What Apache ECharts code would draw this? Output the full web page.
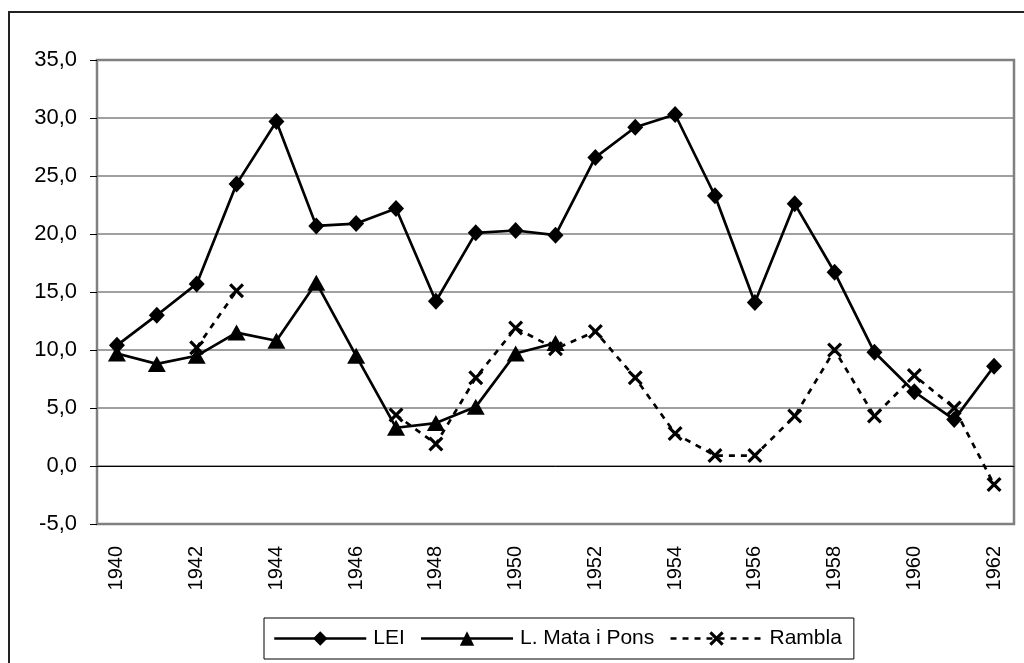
<!DOCTYPE html>
<html>
<head>
<meta charset="utf-8">
<script src="https://cdn.jsdelivr.net/npm/echarts@6/dist/echarts.min.js"></script>
<style>
  html, body { margin: 0; padding: 0; background: #fff; }
  #chart { width: 1024px; height: 663px; }
</style>
</head>
<body>
<div id="chart"></div>
<script>
// Years on the category axis
const years = ['1940','1941','1942','1943','1944','1945','1946','1947','1948','1949','1950','1951',
               '1952','1953','1954','1955','1956','1957','1958','1959','1960','1961','1962'];

// Series values (percent)
const lei = [10.4, 13.0, 15.7, 24.3, 29.7, 20.7, 20.9, 22.2, 14.2, 20.1, 20.3, 19.9,
             26.6, 29.2, 30.3, 23.3, 14.1, 22.6, 16.7, 9.8, 6.4, 4.0, 8.6];
const mataPons = [9.7, 8.8, 9.5, 11.5, 10.8, 15.8, 9.5, 3.3, 3.7, 5.1, 9.7, 10.6,
                  null, null, null, null, null, null, null, null, null, null, null];
const rambla = [null, null, 10.2, 15.1, null, null, null, 4.4, 1.9, 7.6, 11.9, 10.1,
                11.6, 7.6, 2.8, 0.9, 0.9, 4.3, 10.0, 4.3, 7.8, 5.0, -1.6];

// Value axis range
const yMin = -5, yMax = 35, yStep = 5;

const FONT = "'Liberation Sans', Arial, sans-serif";
// "x" marker drawn as a filled cross outline
const CROSS = 'path://M3,0 L10,7 L17,0 L20,3 L13,10 L20,17 L17,20 L10,13 L3,20 L0,17 L7,10 L0,3 Z';

const chart = echarts.init(document.getElementById('chart'), null, { renderer: 'canvas' });

chart.setOption({
  animation: false,
  backgroundColor: '#fff',
  textStyle: { fontFamily: FONT, color: '#000' },
  graphic: [{
    type: 'rect',
    shape: { x: 9, y: 12, width: 1100, height: 700 },
    style: { fill: 'none', stroke: '#222', lineWidth: 2 },
    z: -10
  }],
  grid: {
    left: 97, right: 10, top: 60, bottom: 139,
    show: true, borderColor: '#808080', borderWidth: 2.5, backgroundColor: '#fff'
  },
  legend: {
    left: 264, top: 618,
    padding: [10, 12, 10, 9],
    borderColor: '#000', borderWidth: 1, backgroundColor: '#fff',
    itemWidth: 92, itemHeight: 18, itemGap: 15,
    lineStyle: { width: 2.5 },
    textStyle: { fontFamily: FONT, fontSize: 21, color: '#000', padding: [0, 0, 0, 2] },
    data: ['LEI', 'L. Mata i Pons', 'Rambla']
  },
  xAxis: [{
    type: 'category', data: years, boundaryGap: true,
    axisLine: { onZero: true, lineStyle: { color: '#000', width: 1 } },
    axisTick: { interval: 0, length: 8, lineStyle: { color: '#000', width: 1 } },
    axisLabel: { show: false },
    splitLine: { show: false }
  }, {
    type: 'category', data: years, boundaryGap: true, position: 'bottom',
    axisLine: { show: false, onZero: false },
    axisTick: { show: false },
    axisLabel: { interval: 1, rotate: 90, margin: 22, fontSize: 20, color: '#000', fontFamily: FONT },
    splitLine: { show: false }
  }],
  yAxis: {
    type: 'value', min: yMin, max: yMax, interval: yStep,
    axisLine: { show: false },
    axisTick: { show: true, length: 7, lineStyle: { color: '#000', width: 1 } },
    axisLabel: {
      margin: 20, fontSize: 22, color: '#000', fontFamily: FONT,
      formatter: v => v.toFixed(1).replace('.', ',')
    },
    splitLine: { lineStyle: { color: '#808080', width: 1.5 } }
  },
  series: [{
    name: 'LEI', type: 'line', data: lei, xAxisIndex: 0,
    symbol: 'diamond', symbolSize: [16, 17], showAllSymbol: true,
    lineStyle: { color: '#000', width: 2.7 },
    itemStyle: { color: '#000' }
  }, {
    name: 'L. Mata i Pons', type: 'line', data: mataPons, xAxisIndex: 0,
    symbol: 'triangle', symbolSize: [18, 16], showAllSymbol: true,
    connectNulls: false,
    lineStyle: { color: '#000', width: 2.7 },
    itemStyle: { color: '#000' }
  }, {
    name: 'Rambla', type: 'line', data: rambla, xAxisIndex: 0,
    symbol: CROSS, symbolSize: 15, showAllSymbol: true,
    connectNulls: false,
    lineStyle: { color: '#000', width: 2.7, type: [6, 6] },
    itemStyle: { color: '#000' }
  }]
});
</script>
</body>
</html>
